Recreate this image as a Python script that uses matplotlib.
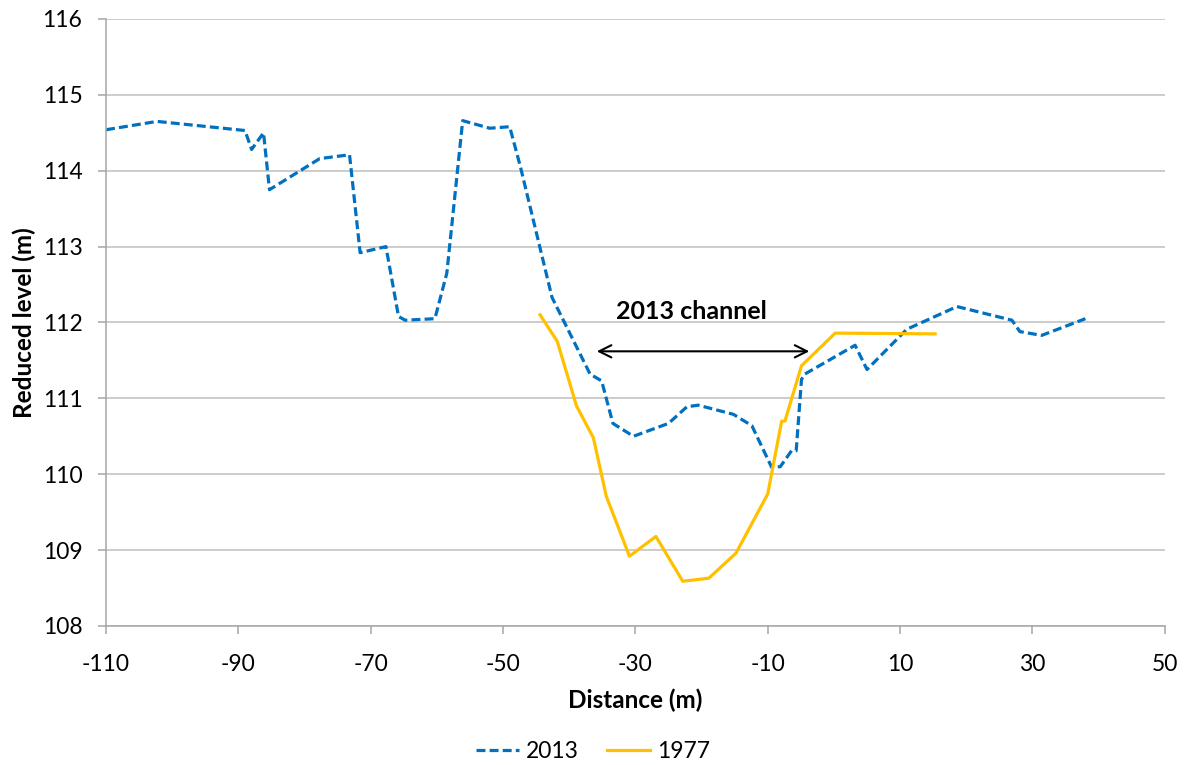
import matplotlib.pyplot as plt

# 2013 survey
dist_2013 = [-110.0, -102.3, -89.0, -88.0, -86.2, -85.3, -77.7, -73.2, -71.6, -67.7,
             -65.8, -64.8, -60.3, -58.5, -56.1, -52.0, -49.0, -47.4, -42.6, -36.85,
             -35.1, -33.4, -30.3, -25.0, -22.2, -20.5, -15.2, -12.4, -9.4, -8.1,
             -6.4, -5.7, -4.9, -4.4, 3.2, 5.0, 11.0, 18.6, 26.9, 28.1, 31.4, 38.0]
level_2013 = [114.54, 114.65, 114.53, 114.28, 114.50, 113.75, 114.16, 114.21, 112.92, 113.00,
              112.08, 112.03, 112.05, 112.65, 114.66, 114.56, 114.58, 114.06, 112.33, 111.32,
              111.23, 110.67, 110.50, 110.67, 110.89, 110.91, 110.79, 110.64, 110.09, 110.10,
              110.31, 110.31, 111.25, 111.32, 111.70, 111.38, 111.91, 112.21, 112.03, 111.88,
              111.83, 112.05]

# 1977 survey
dist_1977 = [-44.4, -41.8, -38.9, -36.35, -34.4, -30.9, -26.9, -22.85, -18.9, -14.8,
             -10.0, -7.9, -7.4, -4.9, 0.2, 15.3]
level_1977 = [112.10, 111.75, 110.90, 110.48, 109.71, 108.92, 109.18, 108.59, 108.63, 108.96,
              109.74, 110.70, 110.70, 111.43, 111.86, 111.85]

channel_start, channel_end, channel_level = -36.25, -3.3, 111.62

plt.rcParams['font.family'] = ['Lato', 'DejaVu Sans']
plt.rcParams['axes.unicode_minus'] = False

fig = plt.figure(figsize=(11.86, 7.65), dpi=100)
ax = fig.add_axes([0.0894, 0.1817, 0.8927, 0.7935])

ax.plot(dist_2013, level_2013, color='#0070C0', lw=2.3, ls=(0, (2.8, 1.3)), label='2013')
ax.plot(dist_1977, level_1977, color='#FFC000', lw=2.3, label='1977')

ax.annotate('', xy=(channel_end, channel_level), xytext=(channel_start, channel_level),
            arrowprops=dict(arrowstyle='<->', color='black', lw=1.5, mutation_scale=22))
ax.text(-21.6, 112.15, '2013 channel', ha='center', va='center',
        fontsize=18, fontweight='bold')

ax.set_xlim(-110, 50)
ax.set_ylim(108, 116)
ax.set_xticks(range(-110, 51, 20))
ax.set_yticks(range(108, 117))
ax.grid(axis='y', color='#BFBFBF', lw=1.1)
ax.set_axisbelow(True)
for s in ['top', 'right']:
    ax.spines[s].set_visible(False)
for s in ['left', 'bottom']:
    ax.spines[s].set_color('#A6A6A6')
    ax.spines[s].set_linewidth(1.1)
ax.tick_params(axis='both', length=6, width=1.1, color='#A6A6A6', labelsize=16.5, pad=11)
ax.tick_params(axis='x', pad=14)

ax.set_xlabel('Distance (m)', fontsize=17.5, fontweight='bold', labelpad=10)
ax.set_ylabel('Reduced level (m)', fontsize=17.5, fontweight='bold', labelpad=5)

fig.legend(loc='center', bbox_to_anchor=(0.5, 0.018), ncol=2, frameon=False,
           fontsize=16.5, handlelength=1.9, columnspacing=1.2, handletextpad=0.3)

fig.savefig('out.png', dpi=100)
